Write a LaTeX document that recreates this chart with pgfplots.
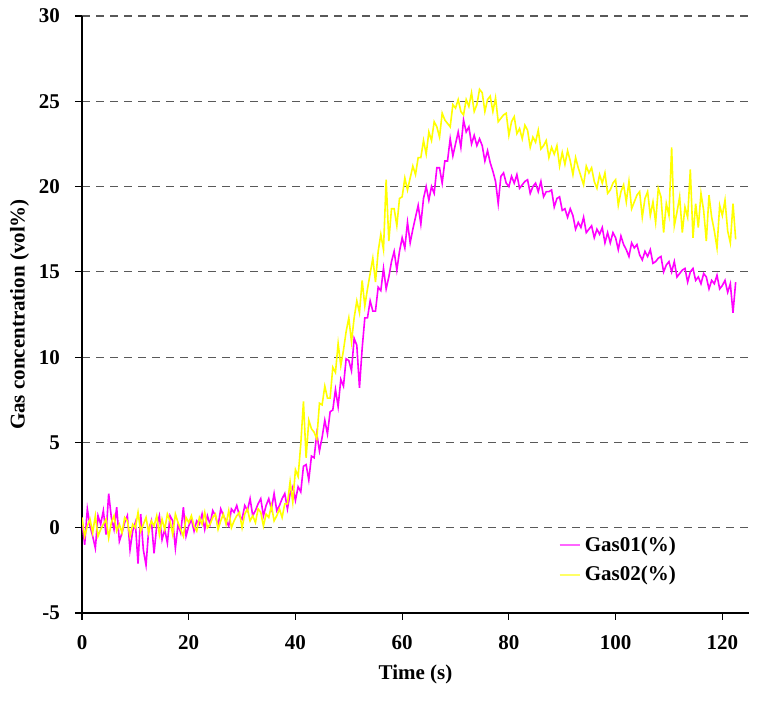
\documentclass[border=0pt]{standalone}
\usepackage{fontspec}
\setmainfont{Liberation Serif}
\usepackage{pgfplots}
\pgfplotsset{compat=1.18}
\definecolor{gasA}{RGB}{255,0,255}
\definecolor{gasB}{RGB}{255,255,0}
\begin{document}
\begin{tikzpicture}
\begin{axis}[
  name=ax,
  scale only axis,
  width=333.5pt, height=298.5pt,
  xmin=0, xmax=125, ymin=-5, ymax=30,
  axis lines*=left,
  axis line style={line width=0.7pt},
  xtick={0,20,...,120}, ytick={-5,0,...,30},
  tick align=outside,
  major tick length=3.5pt,
  tick style={black, line width=0.6pt},
  ymajorgrids,
  grid style={dashed, dash pattern=on 4pt off 3pt, black!65, line width=0.6pt},
  /pgf/number format/assume math mode=true,
  ticklabel style={font=\bfseries\fontsize{10.5}{12}\selectfont},
  xticklabel style={yshift=-4pt},
  yticklabel style={xshift=-4pt},
  xlabel={Time (s)},
  ylabel={Gas concentration (vol\%)},
  label style={font=\bfseries\fontsize{10.5}{12}\selectfont},
  xlabel style={yshift=-1pt},
  ylabel style={yshift=-2pt},
  legend style={at={(rel axis cs:0.705,0.035)}, anchor=south west, draw=none, fill=none,
    font=\bfseries\fontsize{10.5}{12}\selectfont, row sep=2pt},
  legend cell align=left,
  legend image code/.code={\draw[#1, line width=1.1pt, opacity=0.6] (0pt,0pt) -- (10pt,0pt);},
  clip=true,
]
\addplot[color=gasA, line width=0.8pt] coordinates {
(0,0.4)(0.5,-1.0)(1,1.1)(1.5,0.1)(2,-0.5)(2.5,-1.2)(3,0.7)(3.5,0.2)(4,1.0)(4.5,-0.4)
(5,2.0)(5.5,0.6)(6,-0.1)(6.5,1.2)(7,-0.8)(7.5,-0.3)(8,0.3)(8.5,0.7)(9,-1.3)(9.5,-0.2)
(10,0.3)(10.5,-2.1)(11,0.8)(11.5,-1.3)(12,-2.2)(12.5,-0.1)(13,0.4)(13.5,-1.5)(14,0.1)(14.5,0.7)
(15,-0.7)(15.5,-0.1)(16,-0.9)(16.5,0.7)(17,0.4)(17.5,-1.2)(18,0.2)(18.5,-0.3)(19,1.2)(19.5,-0.5)
(20,0.1)(20.5,0.5)(21,-0.2)(21.5,0.4)(22,0.2)(22.5,0.8)(23,-0.1)(23.5,0.7)(24,0.2)(24.5,1.0)
(25,0.7)(25.5,0.1)(26,1.1)(26.5,0.7)(27,0.4)(27.5,0.1)(28,1.1)(28.5,0.9)(29,1.3)(29.5,0.7)
(30,0.5)(30.5,1.3)(31,1.0)(31.5,1.7)(32,0.7)(32.5,1.0)(33,1.4)(33.5,1.7)(34,0.7)(34.5,1.3)
(35,1.7)(35.5,1.1)(36,2.0)(36.5,1.0)(37,1.3)(37.5,1.7)(38,2.0)(38.5,1.1)(39,2.0)(39.5,2.4)
(40,1.6)(40.5,2.4)(41,2.1)(41.5,3.6)(42,3.7)(42.5,2.8)(43,4.2)(43.5,4.1)(44,5.5)(44.5,4.5)
(45,5.3)(45.5,6.3)(46,5.5)(46.5,6.8)(47,6.9)(47.5,8.1)(48,7.1)(48.5,8.7)(49,8.3)(49.5,9.9)
(50,9.8)(50.5,9.2)(51,11.1)(51.5,10.7)(52,8.2)(52.5,10.5)(53,12.3)(53.5,12.3)(54,13.3)(54.5,12.7)
(55,12.7)(55.5,14.1)(56,13.9)(56.5,15.2)(57,14.0)(57.5,14.7)(58,15.6)(58.5,16.2)(59,15.1)(59.5,16.2)
(60,17.0)(60.5,16.4)(61,17.9)(61.5,16.7)(62,17.5)(62.5,18.2)(63,18.9)(63.5,17.8)(64,19.3)(64.5,20.0)
(65,19.2)(65.5,20.0)(66,19.6)(66.5,21.1)(67,21.1)(67.5,20.2)(68,21.5)(68.5,21.5)(69,22.8)(69.5,21.8)
(70,22.5)(70.5,23.2)(71,22.3)(71.5,23.9)(72,23.2)(72.5,23.5)(73,22.5)(73.5,23.0)(74,22.4)(74.5,22.8)
(75,22.4)(75.5,21.5)(76,22.1)(76.5,21.4)(77,20.9)(77.5,20.3)(78,19.0)(78.5,20.6)(79,20.8)(79.5,20.2)
(80,20.0)(80.5,20.6)(81,20.2)(81.5,20.7)(82,19.9)(82.5,20.1)(83,20.3)(83.5,20.4)(84,19.6)(84.5,20.0)
(85,20.2)(85.5,19.7)(86,20.3)(86.5,19.4)(87,19.7)(87.5,19.7)(88,19.8)(88.5,18.8)(89,19.3)(89.5,19.4)
(90,18.6)(90.5,18.7)(91,18.2)(91.5,18.7)(92,18.3)(92.5,17.5)(93,17.9)(93.5,17.6)(94,18.2)(94.5,17.3)
(95,17.5)(95.5,17.7)(96,17.0)(96.5,17.5)(97,17.2)(97.5,17.6)(98,16.7)(98.5,17.3)(99,16.7)(99.5,17.3)
(100,17.0)(100.5,16.3)(101,17.1)(101.5,16.6)(102,16.3)(102.5,15.9)(103,16.7)(103.5,16.4)(104,16.6)(104.5,16.0)
(105,15.7)(105.5,16.2)(106,15.9)(106.5,16.3)(107,15.5)(107.5,15.6)(108,15.8)(108.5,15.9)(109,15.0)(109.5,15.4)
(110,15.6)(110.5,15.0)(111,15.6)(111.5,14.7)(112,14.9)(112.5,15.1)(113,15.2)(113.5,14.4)(114,15.0)(114.5,15.2)
(115,14.5)(115.5,14.7)(116,14.3)(116.5,14.9)(117,14.7)(117.5,14.0)(118,14.5)(118.5,14.3)(119,14.8)(119.5,14.0)
(120,14.2)(120.5,14.5)(121,13.8)(121.5,14.3)(122,12.6)(122.5,14.4)
};
\addlegendentry{Gas01(\%)}
\addplot[color=gasB, line width=0.8pt] coordinates {
(0,0.6)(0.5,-0.5)(1,0.1)(1.5,0.5)(2,-0.3)(2.5,0.7)(3,-0.5)(3.5,-0.1)(4,0.2)(4.5,0.5)
(5,-0.6)(5.5,0.3)(6,0.7)(6.5,-0.2)(7,0.2)(7.5,-0.3)(8,0.6)(8.5,0.4)(9,-0.5)(9.5,0.2)
(10,0.0)(10.5,0.9)(11,-0.2)(11.5,0.2)(12,0.6)(12.5,-0.3)(13,0.4)(13.5,0.1)(14,0.7)(14.5,-0.4)
(15,0.5)(15.5,-0.1)(16,0.8)(16.5,0.4)(17,-0.4)(17.5,0.8)(18,0.3)(18.5,-0.1)(19,-0.5)(19.5,0.6)
(20,0.3)(20.5,0.7)(21,0.1)(21.5,-0.2)(22,0.6)(22.5,0.2)(23,0.9)(23.5,0.0)(24,0.2)(24.5,0.6)
(25,0.8)(25.5,-0.1)(26,0.4)(26.5,0.8)(27,0.2)(27.5,1.0)(28,0.0)(28.5,0.4)(29,0.7)(29.5,0.9)
(30,0.0)(30.5,0.8)(31,1.1)(31.5,0.4)(32,0.7)(32.5,0.3)(33,1.1)(33.5,0.9)(34,0.1)(34.5,0.8)
(35,0.6)(35.5,1.3)(36,0.4)(36.5,0.7)(37,1.1)(37.5,0.6)(38,1.4)(38.5,1.4)(39,2.7)(39.5,1.5)
(40,3.4)(40.5,3.0)(41,4.9)(41.5,7.4)(42,4.1)(42.5,6.3)(43,5.8)(43.5,5.6)(44,5.2)(44.5,7.3)
(45,7.2)(45.5,8.3)(46,7.6)(46.5,7.6)(47,9.4)(47.5,9.1)(48,10.8)(48.5,9.5)(49,10.4)(49.5,11.5)
(50,12.3)(50.5,10.9)(51,12.3)(51.5,13.3)(52,12.6)(52.5,14.5)(53,13.0)(53.5,14.0)(54,14.9)(54.5,15.8)
(55,14.4)(55.5,16.2)(56,17.2)(56.5,16.3)(57,20.4)(57.5,16.8)(58,18.7)(58.5,18.7)(59,17.7)(59.5,19.3)
(60,19.4)(60.5,20.5)(61,19.8)(61.5,20.5)(62,21.2)(62.5,20.7)(63,21.7)(63.5,21.7)(64,22.7)(64.5,21.9)
(65,23.2)(65.5,22.7)(66,23.8)(66.5,23.5)(67,22.9)(67.5,24.3)(68,23.9)(68.5,23.7)(69,23.5)(69.5,24.8)
(70,24.6)(70.5,25.1)(71,24.4)(71.5,24.2)(72,25.1)(72.5,24.7)(73,25.5)(73.5,24.4)(74,24.8)(74.5,25.7)
(75,25.5)(75.5,24.4)(76,25.1)(76.5,25.3)(77,24.4)(77.5,25.2)(78,23.8)(78.5,24.0)(79,24.2)(79.5,24.3)
(80,23.0)(80.5,23.8)(81,24.1)(81.5,23.1)(82,23.4)(82.5,22.8)(83,23.6)(83.5,23.3)(84,22.3)(84.5,22.9)
(85,22.6)(85.5,23.3)(86,22.2)(86.5,22.4)(87,22.7)(87.5,21.7)(88,22.3)(88.5,21.9)(89,22.4)(89.5,21.2)
(90,22.0)(90.5,21.3)(91,22.1)(91.5,21.5)(92,20.7)(92.5,21.7)(93,21.1)(93.5,20.6)(94,20.1)(94.5,21.2)
(95,20.8)(95.5,21.1)(96,20.3)(96.5,19.9)(97,20.7)(97.5,20.2)(98,20.8)(98.5,19.6)(99,19.8)(99.5,20.2)
(100,20.4)(100.5,18.9)(101,19.7)(101.5,20.1)(102,19.1)(102.5,20.3)(103,18.7)(103.5,19.1)(104,19.5)(104.5,19.7)
(105,18.2)(105.5,19.3)(106,19.7)(106.5,18.3)(107,19.1)(107.5,17.9)(108,19.9)(108.5,19.4)(109,17.3)(109.5,19.0)
(110,18.3)(110.5,22.3)(111,17.7)(111.5,18.5)(112,19.4)(112.5,17.3)(113,18.8)(113.5,18.2)(114,21.0)(114.5,17.0)
(115,19.0)(115.5,17.6)(116,19.6)(116.5,18.6)(117,16.8)(117.5,19.5)(118,18.2)(118.5,17.4)(119,16.4)(119.5,18.9)
(120,18.3)(120.5,19.2)(121,17.4)(121.5,16.7)(122,19.0)(122.5,16.9)
};
\addlegendentry{Gas02(\%)}
\end{axis}
\pgfresetboundingbox
\path ([shift={(-41pt,-44.5pt)}]ax.south west) rectangle ([shift={(7.5pt,8pt)}]ax.north east);
\end{tikzpicture}
\end{document}
